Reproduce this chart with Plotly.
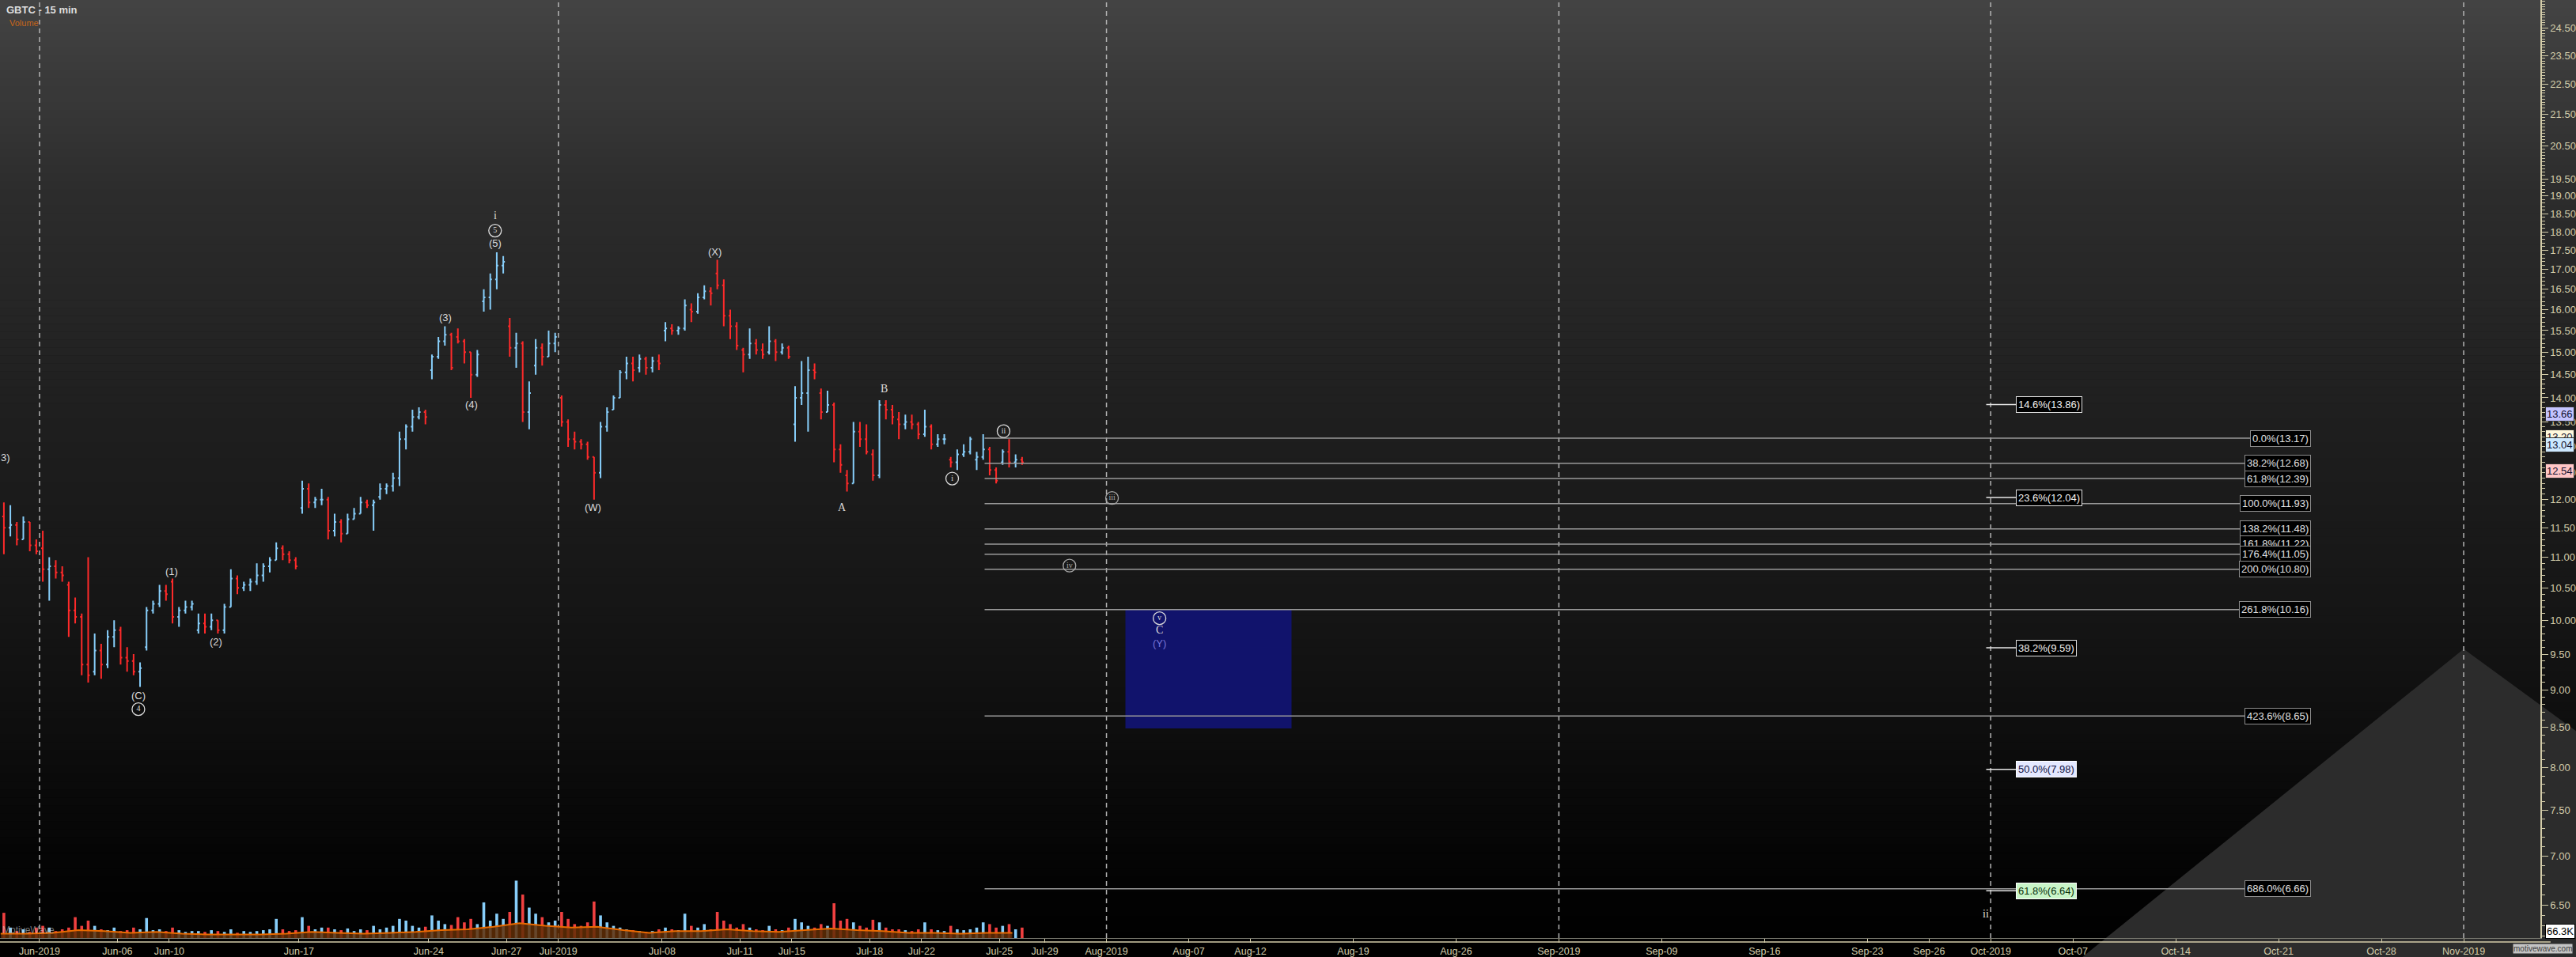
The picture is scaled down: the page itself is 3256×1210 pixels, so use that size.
import math
import numpy as np
import plotly.graph_objects as go

TITLE = "GBTC - 15 min"

# ---------------- data ----------------
past_days = ["2019-05-30", "2019-05-31",
             "2019-06-03", "2019-06-04", "2019-06-05", "2019-06-06", "2019-06-07",
             "2019-06-10", "2019-06-11", "2019-06-12", "2019-06-13", "2019-06-14",
             "2019-06-17", "2019-06-18", "2019-06-19", "2019-06-20", "2019-06-21",
             "2019-06-24", "2019-06-25", "2019-06-26", "2019-06-27", "2019-06-28",
             "2019-07-01", "2019-07-02", "2019-07-03", "2019-07-05",
             "2019-07-08", "2019-07-09", "2019-07-10", "2019-07-11", "2019-07-12",
             "2019-07-15", "2019-07-16", "2019-07-17", "2019-07-18", "2019-07-19",
             "2019-07-22", "2019-07-23", "2019-07-24", "2019-07-25"]

# four bars per session (first session only shows its last two)
opens = [11.70, 11.50,
         11.55, 11.30, 11.60, 11.20,
         11.15, 10.80, 10.85, 10.75,
         10.55, 10.15, 10.05, 9.35,
         9.25, 9.55, 9.35, 9.75,
         9.85, 9.45, 9.40, 9.25,
         9.60, 10.15, 10.25, 10.45,
         10.60, 10.05, 10.15, 10.20,
         9.85, 9.95, 9.90, 10.00,
         9.85, 10.20, 10.65, 10.50,
         10.55, 10.60, 10.70, 10.85,
         10.95, 11.15, 11.05, 10.95,
         11.85, 12.20, 11.95, 12.00,
         12.00, 11.45, 11.60, 11.40,
         11.65, 11.75, 11.95, 11.90,
         12.05, 12.20, 12.25, 12.40,
         13.15, 13.40, 13.60, 13.70,
         14.60, 14.90, 15.25, 15.40,
         15.35, 15.25, 15.00, 14.50,
         16.20, 16.30, 16.75, 17.10,
         15.60, 15.10, 15.20, 13.70,
         14.70, 15.10, 14.90, 15.20,
         14.00, 13.50, 13.15, 13.10,
         13.05, 12.80, 12.50, 13.40,
         13.75, 14.00, 14.55, 14.75,
         14.65, 14.85, 14.65, 14.80,
         15.50, 15.55, 15.50, 15.55,
         16.00, 15.95, 16.30, 16.45,
         16.90, 16.60, 15.85, 15.60,
         15.05, 14.95, 15.20, 15.05,
         15.00, 15.25, 15.00, 15.10,
         13.45, 14.00, 14.10, 14.60,
         14.10, 13.70, 13.85, 12.95,
         12.45, 12.30, 13.30, 13.15,
         12.85, 12.45, 13.85, 13.75,
         13.55, 13.45, 13.50, 13.45,
         13.25, 13.40, 13.05, 13.15,
         12.75, 12.70, 12.85, 12.90,
         12.75, 12.80, 12.95, 12.55,
         12.70, 12.90, 12.70, 12.75]

highs = [11.95, 11.90,
         11.60, 11.70, 11.60, 11.30,
         11.45, 11.00, 10.95, 10.85,
         10.60, 10.35, 10.10, 11.00,
         9.80, 9.65, 9.85, 10.00,
         9.90, 9.60, 9.50, 9.38,
         10.20, 10.30, 10.55, 10.55,
         10.65, 10.20, 10.30, 10.30,
         10.10, 10.10, 10.10, 10.00,
         10.25, 10.80, 10.70, 10.60,
         10.65, 10.90, 10.90, 11.00,
         11.25, 11.20, 11.10, 11.00,
         12.35, 12.30, 12.05, 12.20,
         12.05, 11.75, 11.65, 11.75,
         11.85, 12.05, 12.00, 12.00,
         12.30, 12.30, 12.50, 13.30,
         13.45, 13.75, 13.80, 13.75,
         14.95, 15.35, 15.60, 15.45,
         15.55, 15.30, 15.00, 15.05,
         16.50, 16.90, 17.45, 17.35,
         15.80, 15.45, 15.25, 14.35,
         15.30, 15.20, 15.50, 15.45,
         14.05, 13.55, 13.30, 13.15,
         13.10, 12.80, 13.50, 13.80,
         14.05, 14.60, 14.90, 14.90,
         14.95, 14.90, 14.90, 14.95,
         15.70, 15.65, 15.60, 16.25,
         16.15, 16.40, 16.60, 16.55,
         17.25, 16.75, 16.00, 15.70,
         15.10, 15.55, 15.30, 15.20,
         15.60, 15.30, 15.20, 15.15,
         14.25, 14.80, 14.90, 14.75,
         14.20, 14.15, 13.90, 13.05,
         12.55, 13.50, 13.50, 13.45,
         12.95, 13.95, 13.95, 13.85,
         13.70, 13.65, 13.65, 13.50,
         13.75, 13.45, 13.25, 13.25,
         12.80, 12.95, 13.05, 13.20,
         12.90, 13.25, 13.00, 12.60,
         12.95, 13.15, 12.85, 12.80]

lows = [11.05, 11.35,
        11.20, 11.30, 11.10, 11.05,
        10.60, 10.30, 10.65, 10.60,
        9.75, 9.95, 9.20, 9.10,
        9.20, 9.15, 9.30, 9.60,
        9.35, 9.25, 9.20, 9.04,
        9.55, 10.10, 10.20, 10.30,
        9.95, 9.90, 10.10, 10.15,
        9.80, 9.80, 9.85, 9.80,
        9.80, 10.20, 10.40, 10.45,
        10.45, 10.55, 10.60, 10.75,
        10.95, 10.95, 10.90, 10.80,
        11.75, 11.85, 11.85, 11.90,
        11.30, 11.35, 11.25, 11.40,
        11.65, 11.75, 11.85, 11.45,
        12.00, 12.10, 12.15, 12.25,
        12.95, 13.30, 13.55, 13.45,
        14.40, 14.85, 15.15, 14.60,
        15.20, 14.75, 14.00, 14.45,
        15.95, 16.00, 16.50, 16.90,
        14.90, 14.65, 13.50, 13.35,
        14.50, 14.70, 14.90, 15.00,
        13.40, 13.00, 12.95, 12.95,
        12.75, 12.00, 12.40, 13.30,
        13.75, 14.00, 14.40, 14.35,
        14.55, 14.50, 14.55, 14.60,
        15.25, 15.40, 15.40, 15.50,
        15.70, 15.90, 16.25, 16.10,
        16.50, 15.60, 15.30, 15.05,
        14.55, 14.85, 14.95, 14.85,
        14.95, 14.80, 14.95, 14.85,
        13.10, 13.85, 13.30, 14.40,
        13.55, 13.70, 12.70, 12.50,
        12.15, 12.30, 13.00, 12.85,
        12.35, 12.40, 13.55, 13.45,
        13.15, 13.35, 13.35, 13.15,
        13.20, 12.95, 13.00, 13.05,
        12.60, 12.55, 12.80, 12.85,
        12.55, 12.75, 12.45, 12.30,
        12.65, 12.60, 12.60, 12.65]

closes = [11.50, 11.55,
          11.30, 11.60, 11.20, 11.10,
          10.80, 10.85, 10.75, 10.70,
          10.15, 10.05, 9.35, 9.20,
          9.55, 9.35, 9.75, 9.85,
          9.45, 9.40, 9.25, 9.30,
          10.15, 10.25, 10.45, 10.40,
          10.05, 10.15, 10.20, 10.25,
          9.95, 9.90, 10.00, 9.85,
          10.20, 10.65, 10.50, 10.55,
          10.60, 10.70, 10.85, 10.95,
          11.15, 11.05, 10.95, 10.85,
          12.20, 11.95, 12.00, 12.00,
          11.45, 11.60, 11.40, 11.65,
          11.75, 11.95, 11.90, 11.95,
          12.20, 12.25, 12.40, 13.15,
          13.40, 13.60, 13.70, 13.60,
          14.90, 15.25, 15.40, 14.65,
          15.25, 15.00, 14.50, 14.95,
          16.30, 16.75, 17.10, 17.20,
          15.10, 15.20, 13.70, 14.10,
          15.10, 14.90, 15.20, 15.35,
          13.50, 13.15, 13.10, 13.05,
          12.80, 12.50, 13.40, 13.70,
          14.00, 14.55, 14.75, 14.60,
          14.85, 14.65, 14.80, 14.75,
          15.55, 15.50, 15.55, 16.10,
          15.95, 16.30, 16.45, 16.40,
          16.60, 15.85, 15.60, 15.15,
          14.95, 15.20, 15.05, 14.95,
          15.25, 15.00, 15.10, 14.90,
          14.00, 14.10, 14.60, 14.55,
          13.70, 13.85, 12.95, 12.65,
          12.30, 13.30, 13.15, 12.90,
          12.45, 13.85, 13.75, 13.60,
          13.45, 13.50, 13.45, 13.25,
          13.40, 13.05, 13.15, 13.15,
          12.70, 12.85, 12.90, 13.15,
          12.80, 12.95, 12.55, 12.35,
          12.90, 12.70, 12.75, 12.70]

volumes_k = [29, 12,
             8, 10, 7, 12,
             14, 12, 8, 10,
             12, 24, 14, 20,
             14, 10, 9, 12,
             8, 9, 12, 10,
             23, 9, 10, 8,
             12, 9, 7, 8,
             8, 7, 9, 8,
             7, 10, 6, 8,
             7, 8, 9, 10,
             22, 10, 8, 9,
             24, 14, 10, 12,
             12, 10, 9, 11,
             8, 10, 9, 14,
             10, 12, 14, 22,
             20, 14, 12, 13,
             26, 20, 16, 15,
             24, 18, 22, 16,
             41, 20, 28, 22,
             30, 66, 50, 35,
             28, 24, 18, 20,
             30, 22, 16, 14,
             18, 42, 26, 18,
             14, 12, 10, 9,
             8, 7, 8, 10,
             12, 10, 9, 28,
             14, 12, 16, 10,
             30, 20, 16, 12,
             16, 12, 10, 9,
             14, 10, 9, 12,
             22, 18, 14, 12,
             16, 14, 40, 20,
             22, 18, 14, 12,
             21, 18, 12, 10,
             10, 9, 8, 10,
             18, 10, 9, 8,
             14, 10, 9, 10,
             12, 18, 16, 12,
             14, 16, 10, 12]

# volume moving average read per session (K)
vol_ma_k = [5, 5, 6, 9, 8, 6, 7, 5, 4, 4, 4, 5, 7, 6, 5, 6, 7, 9, 10, 13,
            17, 14, 12, 13, 9, 6, 8, 8, 10, 8, 7, 9, 11, 9, 8, 6, 6, 5, 6, 6]
VOL_SCALE_MAX_K = 66.3

tick_dates = ["2019-06-03", "2019-06-06", "2019-06-10", "2019-06-17", "2019-06-24",
              "2019-06-27", "2019-07-01", "2019-07-08", "2019-07-11", "2019-07-15",
              "2019-07-18", "2019-07-22", "2019-07-25", "2019-07-29", "2019-08-01",
              "2019-08-07", "2019-08-12", "2019-08-19", "2019-08-26", "2019-09-02",
              "2019-09-09", "2019-09-16", "2019-09-23", "2019-09-26", "2019-10-01",
              "2019-10-07", "2019-10-14", "2019-10-21", "2019-10-28", "2019-11-01"]
tick_text = ["Jun-2019", "Jun-06", "Jun-10", "Jun-17", "Jun-24", "Jun-27", "Jul-2019",
             "Jul-08", "Jul-11", "Jul-15", "Jul-18", "Jul-22", "Jul-25", "Jul-29",
             "Aug-2019", "Aug-07", "Aug-12", "Aug-19", "Aug-26", "Sep-2019", "Sep-09",
             "Sep-16", "Sep-23", "Sep-26", "Oct-2019", "Oct-07", "Oct-14", "Oct-21",
             "Oct-28", "Nov-2019"]
month_starts = ["2019-06-03", "2019-07-01", "2019-08-01", "2019-09-02", "2019-10-01", "2019-11-01"]

price_ticks = [6.5, 7.0, 7.5, 8.0, 8.5, 9.0, 9.5, 10.0, 10.5, 11.0, 11.5, 12.0, 12.5, 13.0,
               13.5, 14.0, 14.5, 15.0, 15.5, 16.0, 16.5, 17.0, 17.5, 18.0, 18.5, 19.0,
               19.5, 20.5, 21.5, 22.5, 23.5, 24.5]

fib_right_pcts = ["0.0%", "38.2%", "61.8%", "100.0%", "138.2%", "161.8%", "176.4%",
                  "200.0%", "261.8%", "423.6%", "686.0%"]
fib_right_prices = [13.17, 12.68, 12.39, 11.93, 11.48, 11.22, 11.05, 10.80, 10.16, 8.65, 6.66]
fib_left_pcts = ["14.6%", "23.6%", "38.2%", "50.0%", "61.8%"]
fib_left_prices = [13.86, 12.04, 9.59, 7.98, 6.64]
fib_left_bg = ["#000000", "#000000", "#000000", "#e4e8ff", "#c8f5c8"]
fib_left_fg = ["#f0f0f0", "#f0f0f0", "#f0f0f0", "#101040", "#0a300a"]
fib_left_border = ["#e0e0e0", "#e0e0e0", "#e0e0e0", "#ffffff", "#ffffff"]

# price tags on the right axis
tag_prices = [13.66, 13.20, 13.04, 12.54]
tag_bg = ["#c4c4ff", "#fff8dc", "#cde9ff", "#ffc6c6"]

# target zone
zone_prices = (8.49, 10.16)
zone_start = ("2019-08-01", 0.92)
zone_end = ("2019-08-14", 0.0)

# wave labels: text, session, fraction of session, price, style
wave_labels = [
    ("i", "2019-06-26", 0.56, 18.45, "serif"),
    ("(5)", "2019-06-26", 0.56, 17.69, "sans"),
    ("(3)", "2019-06-24", 0.64, 15.81, "sans"),
    ("(4)", "2019-06-25", 0.65, 13.86, "sans"),
    ("(W)", "2019-07-02", 0.34, 11.86, "sans"),
    ("(X)", "2019-07-10", 0.04, 17.46, "sans"),
    ("(1)", "2019-06-10", 0.09, 10.76, "sans"),
    ("(2)", "2019-06-11", 0.80, 9.68, "sans"),
    ("(C)", "2019-06-06", 0.81, 8.92, "sans"),
    ("B", "2019-07-18", 0.56, 14.20, "serif"),
    ("A", "2019-07-16", 0.95, 11.86, "serif"),
    ("C", "2019-08-05", 0.58, 9.85, "serif"),
    ("(Y)", "2019-08-05", 0.58, 9.66, "blue"),
    ("ii", "2019-09-30", 0.77, 6.41, "serif"),
]
circled_labels = [
    ("5", "2019-06-26", 0.56, 18.03, "#dcdcdc"),
    ("4", "2019-06-06", 0.81, 8.74, "#dcdcdc"),
    ("i", "2019-07-23", 0.18, 12.39, "#dcdcdc"),
    ("ii", "2019-07-25", 0.16, 13.31, "#dcdcdc"),
    ("iii", "2019-08-01", 0.27, 12.03, "#a8a8a8"),
    ("iv", "2019-07-30", 0.20, 10.86, "#a8a8a8"),
    ("v", "2019-08-05", 0.58, 10.03, "#dcdcdc"),
]

fib_start = ("2019-07-24", 0.43)
fib_right_end = ("2019-10-21", 0.5)
fib_right_label_x = ("2019-10-22", 0.57)
fib_left_line = (("2019-09-30", 0.78), ("2019-10-02", 0.24))

# ---------------- geometry helpers ----------------
W, H = 3256, 1210
ML, MR, MT, MB = 0, 44, 0, 22
PW, PH = W - ML - MR, H - MT - MB
PX_PER_DAY = 32.8
X0 = -50 / PX_PER_DAY
X1 = X0 + PW / PX_PER_DAY
X_JUL29 = 38.75
FUT = 26.0 / PX_PER_DAY
Y_LO, Y_HI = 6.182, 25.56


def xpos(date, frac=0.0):
    if date in past_days:
        return past_days.index(date) - 2 + frac
    k = int(np.busday_count("2019-07-29", date))
    return X_JUL29 + (k + frac) * FUT


# bar positions
slots = []
for i, d in enumerate(past_days):
    for q in range(4):
        if i == 0 and q < 2:
            continue
        slots.append(xpos(d) + (q + 0.5) / 4.0)

FONT = "Liberation Sans, Arial, sans-serif"
SERIF = "Liberation Serif, DejaVu Serif, serif"
BEIGE = "#d4cdaa"

fig = go.Figure()

# target zone
zx0, zx1 = xpos(*zone_start), xpos(*zone_end)
fig.add_trace(go.Scatter(x=[zx0, zx1, zx1, zx0, zx0],
                         y=[zone_prices[0], zone_prices[0], zone_prices[1], zone_prices[1], zone_prices[0]],
                         mode="lines", fill="toself", fillcolor="#11136c",
                         line=dict(width=0), hoverinfo="skip", showlegend=False))

# fib lines
fx0, fx1 = xpos(*fib_start), xpos(*fib_right_end)
for p in fib_right_prices:
    fig.add_trace(go.Scatter(x=[fx0, fx1], y=[p, p], mode="lines",
                             line=dict(color="#9a9a9a", width=1.5),
                             hoverinfo="skip", showlegend=False))
lx0, lx1 = xpos(*fib_left_line[0]), xpos(*fib_left_line[1])
for p in fib_left_prices:
    fig.add_trace(go.Scatter(x=[lx0, lx1], y=[p, p], mode="lines",
                             line=dict(color="#e8e8e8", width=1.5),
                             hoverinfo="skip", showlegend=False))

# price bars
fig.add_trace(go.Ohlc(x=slots, open=opens, high=highs, low=lows, close=closes,
                      increasing=dict(line=dict(color="#87cefa", width=2)),
                      decreasing=dict(line=dict(color="#ff2a2a", width=2)),
                      tickwidth=0.25, hoverinfo="skip", showlegend=False))

# circled wave labels
for txt, d, f, p, col in circled_labels:
    fig.add_trace(go.Scatter(x=[xpos(d, f)], y=[p], mode="markers+text",
                             marker=dict(symbol="circle-open", size=16, color=col,
                                         line=dict(width=1.3, color=col)),
                             text=[txt], textposition="middle center",
                             textfont=dict(family=SERIF, size=10, color=col),
                             hoverinfo="skip", showlegend=False))

# volume (secondary axis)
day_centers = [xpos(d) + 0.5 for d in past_days]
fig.add_trace(go.Scatter(x=day_centers, y=vol_ma_k, yaxis="y2", mode="lines",
                         line=dict(width=0), fill="tozeroy", fillcolor="rgba(96,46,6,0.85)",
                         hoverinfo="skip", showlegend=False))
vol_colors = ["#87cefa" if c >= o else "#f04040" for o, c in zip(opens, closes)]
fig.add_trace(go.Bar(x=slots, y=volumes_k, yaxis="y2", width=0.11,
                     marker=dict(color=vol_colors, line=dict(width=0)),
                     hoverinfo="skip", showlegend=False))
fig.add_trace(go.Scatter(x=day_centers, y=vol_ma_k, yaxis="y2", mode="lines",
                         line=dict(color="#e86a00", width=2),
                         hoverinfo="skip", showlegend=False))

# ---------------- shapes ----------------
shapes = []
stops = [(0, 67), (250, 44), (520, 31), (780, 21), (940, 13), (1100, 4), (1188, 0), (1210, 0)]


def shade(py):
    for (a, ca), (b, cb) in zip(stops[:-1], stops[1:]):
        if a <= py <= b:
            return ca + (cb - ca) * (py - a) / (b - a)
    return 0


def py2paper(py):
    return (PH - py) / PH


def px2paper(px):
    return px / PW


band = 10
for py in range(0, H, band):
    g = int(round(shade(py + band / 2)))
    shapes.append(dict(type="rect", xref="paper", yref="paper",
                       x0=-0.01, x1=1.03, y0=py2paper(py + band + 0.5), y1=py2paper(py),
                       fillcolor=f"rgb({g},{g},{g})", line=dict(width=0), layer="below"))
# grey triangle at bottom right
tri = [(2633, 1212), (3115, 822), (3260, 928), (3260, 1212)]
path = "M " + " L ".join(f"{px2paper(a):.5f},{py2paper(b):.5f}" for a, b in tri) + " Z"
shapes.append(dict(type="path", xref="paper", yref="paper", path=path,
                   fillcolor="#2c2c2c", line=dict(width=0), layer="below"))
# month separators
for d in month_starts:
    xv = xpos(d)
    shapes.append(dict(type="line", xref="x", yref="paper", x0=xv, x1=xv, y0=0, y1=1,
                       line=dict(color="#b4b4b4", width=1.5, dash="6px,5px"), layer="below"))
# second time-axis rule
shapes.append(dict(type="line", xref="paper", yref="paper", x0=0, x1=1.004,
                   y0=py2paper(PH + 5), y1=py2paper(PH + 5),
                   line=dict(color=BEIGE, width=1.5)))

# ---------------- annotations ----------------
ann = []
ann.append(dict(text="<b>" + TITLE + "</b>", xref="paper", yref="paper", x=px2paper(6),
                y=py2paper(13), xanchor="left", yanchor="middle", showarrow=False,
                font=dict(family=FONT, size=13, color="#dedede")))
ann.append(dict(text="Volume", xref="paper", yref="paper", x=px2paper(10), y=py2paper(29),
                xanchor="left", yanchor="middle", showarrow=False,
                font=dict(family=FONT, size=11, color="#c8661a")))
ann.append(dict(text="MotiveWave", xref="paper", yref="paper", x=px2paper(1), y=py2paper(1178),
                xanchor="left", yanchor="middle", showarrow=False,
                font=dict(family=FONT, size=12, color="rgba(220,220,220,0.55)")))
ann.append(dict(text="motivewave.com", xref="paper", yref="paper", x=px2paper(3215),
                y=py2paper(1202), xanchor="center", yanchor="middle", showarrow=False,
                bgcolor="#c4c4c4", borderpad=0,
                font=dict(family=FONT, size=10, color="#404040")))
ann.append(dict(text="3)", xref="paper", yref="paper", x=px2paper(-1), y=py2paper(579),
                xanchor="left", yanchor="middle", showarrow=False,
                font=dict(family=FONT, size=13, color="#d8d8d8")))

for txt, d, f, p, style in wave_labels:
    fam = SERIF if style == "serif" else FONT
    col = "#7474d8" if style == "blue" else "#dcdcdc"
    size = 14 if style == "serif" else 13
    ann.append(dict(text=txt, x=xpos(d, f), y=math.log10(p), xref="x", yref="y",
                    showarrow=False, xanchor="center", yanchor="middle",
                    font=dict(family=fam, size=size, color=col)))

rx = xpos(*fib_right_label_x)
for pct, p in zip(fib_right_pcts, fib_right_prices):
    ann.append(dict(text=f"{pct}({p:.2f})", x=rx, y=math.log10(p), xref="x", yref="y",
                    xanchor="right", yanchor="middle", showarrow=False,
                    bgcolor="#000000", bordercolor="#8c8c8c", borderwidth=1, borderpad=2,
                    font=dict(family=FONT, size=13, color="#e0e0e0")))
for pct, p, bg, fg, bc in zip(fib_left_pcts, fib_left_prices, fib_left_bg, fib_left_fg, fib_left_border):
    ann.append(dict(text=f"{pct}({p:.2f})", x=lx1, y=math.log10(p), xref="x", yref="y",
                    xanchor="left", yanchor="middle", showarrow=False,
                    bgcolor=bg, bordercolor=bc, borderwidth=1, borderpad=2,
                    font=dict(family=FONT, size=13, color=fg)))

for p, bg in zip(tag_prices, tag_bg):
    ann.append(dict(text=f"{p:.2f}", x=1, xshift=6, y=math.log10(p), xref="paper", yref="y",
                    xanchor="left", yanchor="middle", showarrow=False,
                    bgcolor=bg, bordercolor="#303030", borderwidth=1, borderpad=1,
                    font=dict(family=FONT, size=13, color="#101030")))
ann.append(dict(text=f"{VOL_SCALE_MAX_K}K", x=1, xshift=6, y=py2paper(1179), xref="paper", yref="paper",
                xanchor="left", yanchor="middle", showarrow=False,
                bgcolor="#ffffff", bordercolor="#000000", borderwidth=1, borderpad=1,
                font=dict(family=FONT, size=13, color="#000000")))

# ---------------- layout ----------------
minor_vals = [round(v, 1) for v in np.arange(6.2, 25.6, 0.1)
              if all(abs(v - t) > 1e-6 for t in price_ticks)]

fig.update_layout(
    width=W, height=H, autosize=False,
    margin=dict(l=ML, r=MR, t=MT, b=MB, pad=0),
    paper_bgcolor="#000000", plot_bgcolor="rgba(0,0,0,0)",
    showlegend=False, hovermode=False,
    shapes=shapes, annotations=ann,
    xaxis=dict(range=[X0, X1], showgrid=False, zeroline=False, fixedrange=True,
               rangeslider=dict(visible=False),
               tickmode="array", tickvals=[xpos(d) for d in tick_dates], ticktext=tick_text,
               ticks="outside", ticklen=5, tickwidth=1, tickcolor=BEIGE,
               showline=True, linecolor="#7a7a70", linewidth=1,
               tickfont=dict(family=FONT, size=12.5, color=BEIGE)),
    yaxis=dict(type="log", range=[math.log10(Y_LO), math.log10(Y_HI)], side="right",
               showgrid=False, zeroline=False, fixedrange=True,
               tickmode="array", tickvals=price_ticks, ticktext=[f"{v:.2f}" for v in price_ticks],
               ticks="outside", ticklen=8, tickwidth=1, tickcolor=BEIGE,
               showline=True, linecolor=BEIGE, linewidth=1.5,
               tickfont=dict(family=FONT, size=13, color=BEIGE),
               minor=dict(tickmode="array", tickvals=minor_vals, ticks="outside",
                          ticklen=4, tickcolor=BEIGE, tickwidth=1, showgrid=False)),
    yaxis2=dict(domain=[0, 73 / PH], range=[0, VOL_SCALE_MAX_K], anchor="x",
                visible=False, fixedrange=True),
)

fig.write_html("out.html", config={"displayModeBar": False},
               post_script="document.body.style.margin='0px';document.body.style.padding='0px';"
                           "document.body.style.overflow='hidden';document.body.style.background='#000';")
